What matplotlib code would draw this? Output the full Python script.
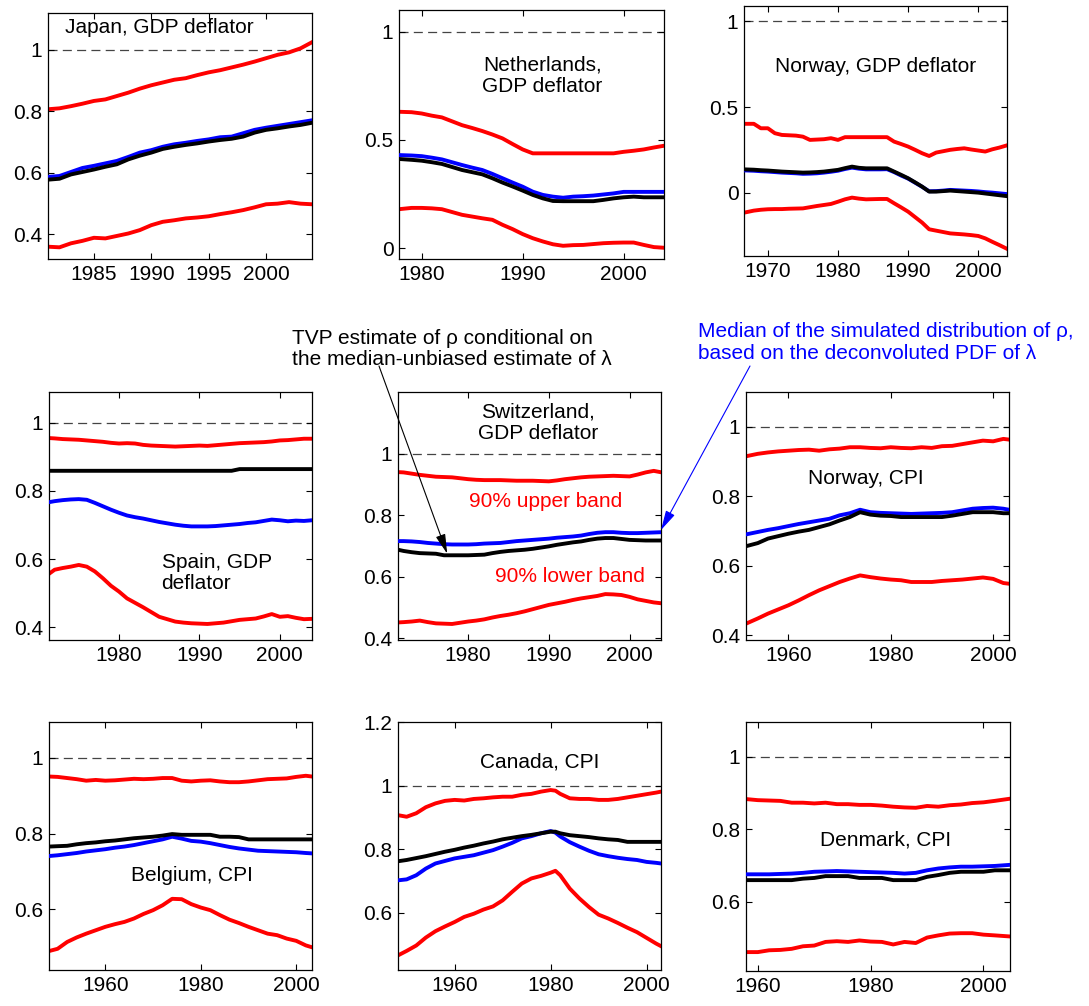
import numpy as np
import matplotlib
matplotlib.use("Agg")
import matplotlib.pyplot as plt
from matplotlib.ticker import FuncFormatter
from matplotlib import font_manager

_names = {f.name for f in font_manager.fontManager.ttflist}
if 'Liberation Sans Narrow' in _names:
    FAMILY, FS, LS = 'Liberation Sans Narrow', 18, 0.98
else:
    FAMILY, FS, LS = 'Liberation Sans', 15, 1.15
plt.rcParams['font.family'] = [FAMILY, 'DejaVu Sans']
plt.rcParams['font.size'] = FS
plt.rcParams['lines.scale_dashes'] = False

# ---------------- data ----------------
japan_years = np.arange(1981, 2005)
japan_upper = [0.807, 0.81, 0.817, 0.825, 0.834, 0.839, 0.85, 0.861, 0.874, 0.885, 0.894, 0.903,
               0.908, 0.918, 0.927, 0.934, 0.943, 0.952, 0.962, 0.973, 0.984, 0.992, 1.005, 1.025]
japan_lower = [0.36, 0.358, 0.371, 0.379, 0.389, 0.387, 0.395, 0.403, 0.414, 0.43, 0.441, 0.446,
               0.452, 0.455, 0.459, 0.466, 0.472, 0.479, 0.488, 0.498, 0.5, 0.505, 0.5, 0.498]
japan_median = [0.587, 0.59, 0.603, 0.616, 0.623, 0.631, 0.639, 0.652, 0.666, 0.674, 0.685, 0.693,
                0.698, 0.704, 0.709, 0.716, 0.718, 0.729, 0.74, 0.747, 0.753, 0.759, 0.765, 0.771]
japan_tvp = [0.578, 0.581, 0.595, 0.603, 0.611, 0.62, 0.628, 0.644, 0.656, 0.666, 0.678, 0.685,
             0.691, 0.696, 0.702, 0.707, 0.711, 0.718, 0.731, 0.74, 0.745, 0.751, 0.756, 0.763]

neth_years = np.r_[1977.75, np.arange(1979, 2005)]
neth_upper = [0.63, 0.628, 0.622, 0.612, 0.604, 0.586, 0.568, 0.555, 0.541, 0.525, 0.507, 0.481,
              0.456, 0.438, 0.438, 0.438, 0.438, 0.438, 0.438, 0.438, 0.438, 0.438, 0.445, 0.45,
              0.456, 0.465, 0.473]
neth_lower = [0.18, 0.186, 0.186, 0.184, 0.18, 0.167, 0.154, 0.146, 0.138, 0.131, 0.108, 0.088,
              0.065, 0.046, 0.031, 0.018, 0.011, 0.014, 0.015, 0.019, 0.023, 0.025, 0.026, 0.026,
              0.015, 0.005, 0.002]
neth_median = [0.43, 0.428, 0.425, 0.418, 0.41, 0.397, 0.384, 0.372, 0.361, 0.343, 0.323, 0.303,
               0.284, 0.261, 0.246, 0.238, 0.233, 0.238, 0.24, 0.243, 0.248, 0.253, 0.26, 0.26,
               0.26, 0.26, 0.26]
neth_tvp = [0.412, 0.408, 0.404, 0.397, 0.389, 0.375, 0.361, 0.351, 0.341, 0.323, 0.303, 0.285,
            0.266, 0.246, 0.23, 0.218, 0.217, 0.217, 0.217, 0.217, 0.223, 0.23, 0.235, 0.238,
            0.235, 0.235, 0.235]

norgdp_years = np.r_[1966.6, np.arange(1968, 2005)]
norgdp_upper = [0.402, 0.402, 0.376, 0.376, 0.347, 0.337, 0.335, 0.333, 0.327, 0.308, 0.31, 0.312,
                0.318, 0.308, 0.324, 0.324, 0.324, 0.324, 0.324, 0.324, 0.324, 0.298, 0.284, 0.269,
                0.25, 0.23, 0.214, 0.234, 0.242, 0.25, 0.255, 0.259, 0.252, 0.246, 0.24, 0.253,
                0.263, 0.275]
norgdp_lower = [-0.117, -0.105, -0.1, -0.097, -0.096, -0.096, -0.094, -0.093, -0.092, -0.085,
                -0.078, -0.072, -0.066, -0.053, -0.039, -0.029, -0.035, -0.039, -0.038, -0.037,
                -0.037, -0.062, -0.086, -0.111, -0.143, -0.175, -0.214, -0.222, -0.23, -0.238,
                -0.241, -0.244, -0.248, -0.253, -0.267, -0.287, -0.306, -0.326]
norgdp_median = [0.13, 0.128, 0.125, 0.123, 0.12, 0.117, 0.115, 0.113, 0.11, 0.111, 0.113, 0.117,
                 0.122, 0.128, 0.138, 0.146, 0.14, 0.136, 0.136, 0.136, 0.137, 0.12, 0.1, 0.082,
                 0.058, 0.034, 0.008, 0.009, 0.012, 0.016, 0.014, 0.012, 0.01, 0.007, 0.003, 0.0,
                 -0.004, -0.008]
norgdp_tvp = [0.136, 0.134, 0.131, 0.129, 0.126, 0.123, 0.121, 0.119, 0.117, 0.118, 0.12, 0.123,
              0.128, 0.133, 0.143, 0.152, 0.145, 0.142, 0.142, 0.142, 0.142, 0.123, 0.104, 0.084,
              0.06, 0.035, 0.006, 0.006, 0.009, 0.012, 0.009, 0.006, 0.003, 0.0, -0.005, -0.01,
              -0.015, -0.02]

spain_years = np.r_[1971.3, np.arange(1972, 2005)]
spain_upper = [0.955, 0.954, 0.952, 0.951, 0.95, 0.948, 0.946, 0.944, 0.941, 0.939, 0.94, 0.939,
               0.935, 0.933, 0.932, 0.931, 0.93, 0.931, 0.932, 0.933, 0.932, 0.934, 0.936, 0.938,
               0.94, 0.941, 0.942, 0.943, 0.945, 0.948, 0.949, 0.951, 0.953, 0.953]
spain_lower = [0.557, 0.569, 0.574, 0.578, 0.583, 0.578, 0.564, 0.544, 0.522, 0.505, 0.485, 0.472,
               0.459, 0.445, 0.431, 0.424, 0.417, 0.414, 0.412, 0.411, 0.41, 0.412, 0.414, 0.418,
               0.422, 0.424, 0.426, 0.432, 0.439, 0.431, 0.433, 0.428, 0.424, 0.425]
spain_median = [0.767, 0.77, 0.773, 0.775, 0.776, 0.774, 0.765, 0.755, 0.745, 0.736, 0.728, 0.723,
                0.719, 0.714, 0.709, 0.705, 0.701, 0.698, 0.696, 0.696, 0.696, 0.697, 0.699, 0.701,
                0.703, 0.706, 0.708, 0.712, 0.716, 0.714, 0.711, 0.713, 0.712, 0.714]
spain_tvp = [0.859] * 24 + [0.864] * 10

swiss_years = np.r_[1971.3, np.arange(1972, 2005)]
swiss_upper = [0.94, 0.939, 0.935, 0.931, 0.928, 0.925, 0.924, 0.923, 0.92, 0.917, 0.915, 0.914,
               0.914, 0.914, 0.913, 0.912, 0.912, 0.912, 0.911, 0.91, 0.913, 0.917, 0.92, 0.923,
               0.925, 0.926, 0.927, 0.928, 0.927, 0.926, 0.932, 0.939, 0.944, 0.939]
swiss_lower = [0.452, 0.453, 0.455, 0.458, 0.453, 0.449, 0.448, 0.447, 0.451, 0.455, 0.458, 0.462,
               0.468, 0.473, 0.477, 0.482, 0.488, 0.495, 0.502, 0.509, 0.514, 0.519, 0.525, 0.53,
               0.534, 0.538, 0.544, 0.543, 0.541, 0.535, 0.527, 0.522, 0.517, 0.514]
swiss_median = [0.716, 0.716, 0.715, 0.713, 0.71, 0.708, 0.706, 0.705, 0.705, 0.705, 0.706, 0.708,
                0.709, 0.71, 0.713, 0.716, 0.718, 0.72, 0.722, 0.724, 0.727, 0.729, 0.731, 0.734,
                0.739, 0.743, 0.745, 0.745, 0.743, 0.742, 0.742, 0.743, 0.744, 0.745]
swiss_tvp = [0.688, 0.684, 0.68, 0.677, 0.676, 0.675, 0.67, 0.67, 0.67, 0.67, 0.671, 0.672,
             0.677, 0.681, 0.684, 0.686, 0.688, 0.691, 0.695, 0.699, 0.704, 0.708, 0.712, 0.715,
             0.72, 0.724, 0.726, 0.726, 0.723, 0.72, 0.719, 0.718, 0.718, 0.718]

norcpi_years = np.r_[1951.7, np.arange(1954, 2003, 2), 2003.1]
norcpi_upper = [0.915, 0.922, 0.926, 0.929, 0.931, 0.933, 0.934, 0.931, 0.935, 0.937, 0.941, 0.941,
                0.939, 0.938, 0.941, 0.939, 0.938, 0.941, 0.939, 0.944, 0.945, 0.95, 0.955, 0.96,
                0.958, 0.965, 0.963]
norcpi_lower = [0.433, 0.448, 0.462, 0.474, 0.486, 0.5, 0.515, 0.529, 0.541, 0.553, 0.563, 0.572,
                0.567, 0.563, 0.56, 0.558, 0.553, 0.553, 0.553, 0.556, 0.558, 0.56, 0.563, 0.566,
                0.562, 0.55, 0.548]
norcpi_median = [0.69, 0.697, 0.703, 0.708, 0.714, 0.72, 0.725, 0.73, 0.735, 0.745, 0.751, 0.761,
                 0.754, 0.752, 0.751, 0.75, 0.749, 0.75, 0.751, 0.752, 0.754, 0.759, 0.764, 0.766,
                 0.767, 0.764, 0.761]
norcpi_tvp = [0.656, 0.665, 0.678, 0.685, 0.692, 0.698, 0.703, 0.711, 0.719, 0.73, 0.74, 0.754,
              0.747, 0.744, 0.743, 0.74, 0.74, 0.74, 0.74, 0.74, 0.744, 0.749, 0.754, 0.754,
              0.754, 0.751, 0.751]

belg_years = np.r_[1948.2, np.arange(1950, 2003, 2), 2003.3]
belg_upper = [0.951, 0.95, 0.947, 0.944, 0.94, 0.942, 0.94, 0.941, 0.943, 0.945, 0.944, 0.945,
              0.947, 0.947, 0.94, 0.938, 0.94, 0.941, 0.938, 0.936, 0.936, 0.938, 0.941, 0.944,
              0.945, 0.946, 0.95, 0.953, 0.951]
belg_lower = [0.49, 0.496, 0.514, 0.526, 0.536, 0.545, 0.554, 0.561, 0.567, 0.576, 0.588, 0.598,
              0.611, 0.628, 0.627, 0.614, 0.605, 0.598, 0.585, 0.573, 0.564, 0.554, 0.545, 0.536,
              0.532, 0.523, 0.517, 0.505, 0.5]
belg_median = [0.741, 0.743, 0.746, 0.749, 0.753, 0.756, 0.759, 0.763, 0.766, 0.77, 0.775, 0.78,
               0.785, 0.792, 0.787, 0.781, 0.779, 0.775, 0.77, 0.765, 0.761, 0.758, 0.755, 0.754,
               0.753, 0.752, 0.751, 0.749, 0.748]
belg_tvp = [0.766, 0.767, 0.768, 0.772, 0.775, 0.777, 0.78, 0.782, 0.785, 0.788, 0.79, 0.792,
            0.795, 0.799, 0.797, 0.797, 0.797, 0.797, 0.792, 0.792, 0.791, 0.785, 0.785, 0.785,
            0.785, 0.785, 0.785, 0.785, 0.785]

canada_years = np.r_[1948.2, np.arange(1950, 1981, 2), 1981, np.arange(1982, 2003, 2), 2003]
canada_upper = [0.907, 0.902, 0.913, 0.932, 0.944, 0.952, 0.955, 0.953, 0.958, 0.96, 0.963, 0.965,
                0.965, 0.971, 0.974, 0.981, 0.986, 0.984, 0.974, 0.96, 0.958, 0.958, 0.955, 0.955,
                0.958, 0.963, 0.968, 0.973, 0.978, 0.981]
canada_lower = [0.466, 0.48, 0.497, 0.522, 0.542, 0.557, 0.571, 0.587, 0.597, 0.61, 0.62, 0.639,
                0.666, 0.692, 0.708, 0.716, 0.726, 0.732, 0.718, 0.676, 0.645, 0.618, 0.594, 0.582,
                0.568, 0.553, 0.539, 0.521, 0.503, 0.495]
canada_median = [0.702, 0.705, 0.718, 0.739, 0.755, 0.763, 0.771, 0.776, 0.781, 0.789, 0.797, 0.808,
                 0.82, 0.834, 0.841, 0.85, 0.857, 0.852, 0.84, 0.822, 0.808, 0.795, 0.784, 0.778,
                 0.773, 0.769, 0.766, 0.76, 0.757, 0.755]
canada_tvp = [0.762, 0.766, 0.772, 0.778, 0.785, 0.792, 0.798, 0.805, 0.811, 0.818, 0.824, 0.831,
              0.836, 0.841, 0.845, 0.85, 0.855, 0.855, 0.85, 0.844, 0.841, 0.838, 0.834, 0.831,
              0.829, 0.823, 0.823, 0.823, 0.823, 0.823]

den_years = np.r_[1957.9, np.arange(1960, 2003, 2), 2004.7]
den_upper = [0.883, 0.88, 0.879, 0.878, 0.873, 0.873, 0.871, 0.873, 0.869, 0.869, 0.867, 0.867,
             0.865, 0.862, 0.86, 0.859, 0.864, 0.862, 0.866, 0.868, 0.872, 0.874, 0.878, 0.884]
den_lower = [0.462, 0.462, 0.467, 0.468, 0.471, 0.478, 0.48, 0.49, 0.492, 0.49, 0.494, 0.491,
             0.49, 0.483, 0.49, 0.487, 0.502, 0.508, 0.513, 0.514, 0.514, 0.51, 0.508, 0.505]
den_median = [0.676, 0.676, 0.676, 0.677, 0.678, 0.68, 0.683, 0.684, 0.685, 0.684, 0.683, 0.682,
              0.681, 0.68, 0.678, 0.68, 0.687, 0.692, 0.695, 0.697, 0.697, 0.698, 0.699, 0.702]
den_tvp = [0.66, 0.66, 0.66, 0.66, 0.66, 0.664, 0.666, 0.671, 0.671, 0.671, 0.666, 0.666,
           0.666, 0.66, 0.66, 0.66, 0.669, 0.674, 0.68, 0.683, 0.683, 0.683, 0.687, 0.687]

titles = ["Japan, GDP deflator", "Netherlands,\nGDP deflator", "Norway, GDP deflator",
          "Spain, GDP\ndeflator", "Switzerland,\nGDP deflator", "Norway, CPI",
          "Belgium, CPI", "Canada, CPI", "Denmark, CPI"]

# ---------------- layout ----------------
W, H = 1089, 1006
fig = plt.figure(figsize=(W / 100, H / 100), dpi=100)

panels = [
    ((48, 13, 312, 259), (japan_years, japan_upper, japan_lower, japan_median, japan_tvp),
     (1981, 2004), (0.32, 1.12), [1985, 1990, 1995, 2000], [0.4, 0.6, 0.8, 1.0], (0.064, 0.943), 'left'),
    ((399, 10, 664, 259), (neth_years, neth_upper, neth_lower, neth_median, neth_tvp),
     (1977.75, 2004), (-0.05, 1.1), [1980, 1990, 2000], [0, 0.5, 1.0], (0.54, 0.735), 'center'),
    ((744, 6, 1007, 256), (norgdp_years, norgdp_upper, norgdp_lower, norgdp_median, norgdp_tvp),
     (1966.6, 2004.1), (-0.37, 1.09), [1970, 1980, 1990, 2000], [0, 0.5, 1.0], (0.5, 0.757), 'center'),
    ((49, 392, 312, 640), (spain_years, spain_upper, spain_lower, spain_median, spain_tvp),
     (1971.3, 2004), (0.363, 1.09), [1980, 1990, 2000], [0.4, 0.6, 0.8, 1.0], (0.428, 0.269), 'left'),
    ((398, 392, 661, 640), (swiss_years, swiss_upper, swiss_lower, swiss_median, swiss_tvp),
     (1971.3, 2003.9), (0.395, 1.2), [1980, 1990, 2000], [0.4, 0.6, 0.8, 1.0], (0.533, 0.876), 'center'),
    ((746, 392, 1009, 640), (norcpi_years, norcpi_upper, norcpi_lower, norcpi_median, norcpi_tvp),
     (1951.7, 2003.1), (0.386, 1.1), [1960, 1980, 2000], [0.4, 0.6, 0.8, 1.0], (0.454, 0.652), 'center'),
    ((49, 722, 312, 970), (belg_years, belg_upper, belg_lower, belg_median, belg_tvp),
     (1948.2, 2003.3), (0.44, 1.095), [1960, 1980, 2000], [0.6, 0.8, 1.0], (0.542, 0.383), 'center'),
    ((398, 722, 661, 970), (canada_years, canada_upper, canada_lower, canada_median, canada_tvp),
     (1948.2, 2003), (0.42, 1.2), [1960, 1980, 2000], [0.6, 0.8, 1.0, 1.2], (0.537, 0.84), 'center'),
    ((746, 722, 1010, 971), (den_years, den_upper, den_lower, den_median, den_tvp),
     (1957.9, 2004.7), (0.41, 1.095), [1960, 1980, 2000], [0.6, 0.8, 1.0], (0.528, 0.526), 'center'),
]

fmt = FuncFormatter(lambda v, p: "%g" % round(v, 6))
LW = 2.8
axes = []
for i, (box, data, xlim, ylim, xt, yt, tpos, ha) in enumerate(panels):
    l, t, r, b = box
    ax = fig.add_axes([l / W, 1 - b / H, (r - l) / W, (b - t) / H])
    yrs, up, lo, med, tvp = data
    ax.axhline(1.0, color='#444444', lw=0.9, dashes=(6.5, 3.8), zorder=1)
    ax.plot(yrs, up, color='#ff0000', lw=LW, zorder=2)
    ax.plot(yrs, lo, color='#ff0000', lw=LW, zorder=2)
    ax.plot(yrs, med, color='#0000ff', lw=LW, zorder=3)
    ax.plot(yrs, tvp, color='black', lw=LW, zorder=4)
    ax.set_xlim(*xlim)
    ax.set_ylim(*ylim)
    ax.set_xticks(xt)
    ax.set_yticks(yt)
    ax.yaxis.set_major_formatter(fmt)
    ax.tick_params(direction='in', top=True, right=True, length=4, width=0.8,
                   labelsize=FS, colors='black')
    ax.tick_params(axis='x', pad=4)
    ax.tick_params(axis='y', pad=4)
    for s in ax.spines.values():
        s.set_linewidth(0.9)
    ax.text(tpos[0], tpos[1], titles[i], transform=ax.transAxes, ha=ha, va='center',
            multialignment=ha, fontsize=FS, linespacing=LS)
    axes.append(ax)

ax_sw = axes[4]
ax_sw.text(0.56, 0.558, "90% upper band", transform=ax_sw.transAxes, color='#ff0000',
           ha='center', va='center', fontsize=FS)
ax_sw.text(0.653, 0.255, "90% lower band", transform=ax_sw.transAxes, color='#ff0000',
           ha='center', va='center', fontsize=FS)

# annotations
fig.text(292 / W, 1 - 349 / H,
         "TVP estimate of \u03c1 conditional on\nthe median-unbiased estimate of \u03bb",
         ha='left', va='center', fontsize=FS, color='black', linespacing=LS + 0.02)
fig.text(698 / W, 1 - 342.5 / H,
         "Median of the simulated distribution of \u03c1,\nbased on the deconvoluted PDF of \u03bb",
         ha='left', va='center', fontsize=FS, color='#0000ff', linespacing=LS + 0.1)

ax_sw.annotate('', xy=(1977.4, 0.675), xycoords='data',
               xytext=(379 / W, 1 - 366 / H), textcoords='figure fraction',
               arrowprops=dict(arrowstyle='-|>,head_length=0.6,head_width=0.15', color='black',
                               lw=0.8, mutation_scale=20, shrinkA=0, shrinkB=0),
               annotation_clip=False)
ax_sw.annotate('', xy=(2003.9, 0.752), xycoords='data',
               xytext=(750 / W, 1 - 366 / H), textcoords='figure fraction',
               arrowprops=dict(arrowstyle='-|>,head_length=0.6,head_width=0.15', color='#0000ff',
                               lw=0.8, mutation_scale=20, shrinkA=0, shrinkB=0),
               annotation_clip=False)

fig.savefig("out.png", dpi=100)
